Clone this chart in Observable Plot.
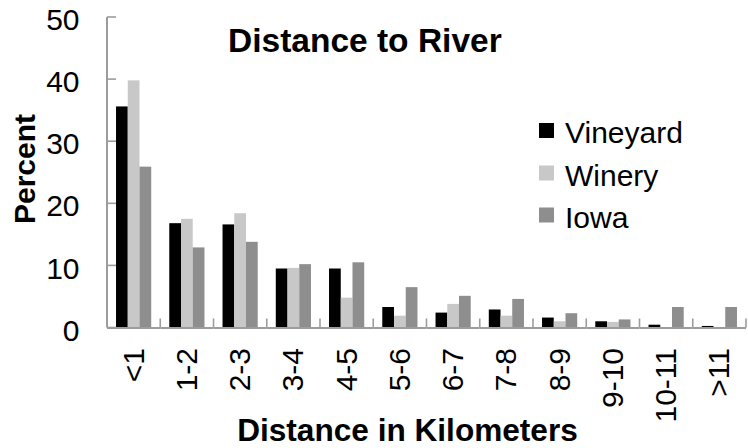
<!DOCTYPE html>
<html><head><meta charset="utf-8">
<script src="https://cdn.jsdelivr.net/npm/d3@7"></script>
<script src="https://cdn.jsdelivr.net/npm/@observablehq/plot@0.6"></script>
<style>
html,body{margin:0;padding:0;background:#fff;}
#wrap{position:relative;width:748px;height:448px;font-family:"Liberation Sans",Arial,sans-serif;}
#wrap svg{position:absolute;left:0;top:0;}
</style></head><body><div id="wrap"></div>
<script>
const categories = ["<1","1-2","2-3","3-4","4-5","5-6","6-7","7-8","8-9","9-10","10-11",">11"];
const seriesNames = ["Vineyard","Winery","Iowa"];
const vineyard = [35.6,16.8,16.6,9.5,9.5,3.3,2.4,2.9,1.6,1.0,0.45,0.25];
const winery   = [39.8,17.5,18.4,9.6,4.8,1.9,3.8,1.9,1.0,0.9,0.0,0.0];
const iowa     = [25.9,12.9,13.8,10.2,10.5,6.5,5.1,4.6,2.3,1.3,3.3,3.3];
const yTicks = [0,10,20,30,40,50];
const seriesColors = ["#000000","#c8c8c8","#8e8e8e"];
const titleText = "Distance to River";
const yLabel = "Percent";
const xLabel = "Distance in Kilometers";

const values = [vineyard, winery, iowa];
const rows = categories.flatMap((c, i) => seriesNames.map((s, j) => ({cat: c, series: s, value: values[j][i]})));
const axisGray = "#9c9c9c";

const chart = Plot.plot({
  width: 748,
  height: 448,
  marginLeft: 107,
  marginRight: 2,
  marginTop: 17,
  marginBottom: 120.5,
  style: {fontFamily: "'Liberation Sans', Arial, sans-serif", fontSize: "28px", background: "transparent", color: "#000"},
  fx: {domain: categories, padding: 0, round: false, label: null},
  x: {domain: seriesNames, paddingInner: 0, paddingOuter: 0.77, round: false, axis: null},
  y: {domain: [0, 50], label: null},
  color: {domain: seriesNames, range: seriesColors},
  marks: [
    Plot.barY(rows, {fx: "cat", x: "series", y: "value", fill: "series"}),
    Plot.ruleY([0], {stroke: axisGray, strokeWidth: 2}),
    Plot.axisY({ticks: yTicks, tickSize: 0, tickPadding: 28, fontSize: 30, dy: 3, label: null}),
    Plot.axisFx({anchor: "bottom", tickRotate: -90, tickSize: 0, tickPadding: 20, fontSize: 30, label: null})
  ]
});
const wrap = document.getElementById("wrap");
wrap.appendChild(chart);

// Vertical axis line and inside tick marks, placed through the chart's own scales
const fx = chart.scale("fx"), y = chart.scale("y");
const ax = d3.select(chart).append("g").attr("stroke", axisGray).attr("fill", "none");
const y0 = y.apply(0), yTop = y.apply(yTicks[yTicks.length - 1]);
const left = fx.apply(categories[0]), step = fx.step || fx.bandwidth;
ax.append("line").attr("stroke-width", 2).attr("x1", left).attr("x2", left).attr("y1", y0).attr("y2", yTop);
for (let i = 1; i <= categories.length; i++) {
  const x = left + step * i;
  ax.append("line").attr("stroke-width", 1.6).attr("x1", x).attr("x2", x).attr("y1", y0).attr("y2", y0 - 9);
}
for (const t of yTicks) ax.append("line").attr("stroke-width", 1.6).attr("x1", left).attr("x2", left + 9).attr("y1", y.apply(t)).attr("y2", y.apply(t));

// Title, axis titles and legend
const ov = d3.select(wrap).append("svg").attr("width", 748).attr("height", 448)
  .style("font-family", "'Liberation Sans', Arial, sans-serif").style("pointer-events", "none");
ov.append("text").attr("x", 228).attr("y", 52).attr("font-size", 33.5).attr("font-weight", "bold").text(titleText);
ov.append("text").attr("transform", "translate(35,169) rotate(-90)").attr("text-anchor", "middle")
  .attr("font-size", 30).attr("font-weight", "bold").text(yLabel);
ov.append("text").attr("x", 407.5).attr("y", 441).attr("text-anchor", "middle")
  .attr("font-size", 31.6).attr("font-weight", "bold").text(xLabel);
const legendBase = [143, 185.5, 227.5];
seriesNames.forEach((s, i) => {
  ov.append("rect").attr("x", 539).attr("y", legendBase[i] - 20).attr("width", 15).attr("height", 15).attr("fill", seriesColors[i]);
  ov.append("text").attr("x", 565).attr("y", legendBase[i]).attr("font-size", 30).text(s);
});
</script></body></html>
